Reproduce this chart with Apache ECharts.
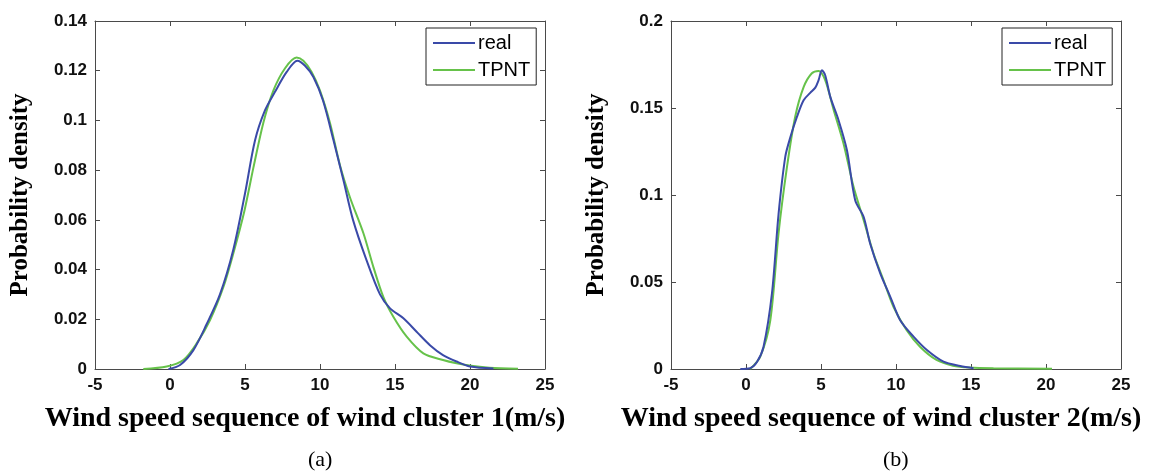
<!DOCTYPE html>
<html>
<head>
<meta charset="utf-8">
<script src="https://cdn.jsdelivr.net/npm/echarts@6/dist/echarts.min.js"></script>
<style>
  html, body { margin: 0; padding: 0; background: #fff; }
  #chart { width: 1150px; height: 473px; }
</style>
</head>
<body>
<div id="chart"></div>
<script>
// wind cluster 1 (a)
const realAX = [-0.1, 0.67, 1.56, 2.44, 3.33, 4.22, 5.0, 5.67, 6.33, 7.0, 7.78, 8.49, 9.0, 9.56, 10.2, 10.9, 11.56, 12.2, 13.1, 14.0, 14.67, 15.56, 16.44, 17.33, 18.2, 19.1, 20.0, 21.56]
const realAY = [0, 0.0016, 0.0076, 0.018, 0.030, 0.048, 0.0706, 0.092, 0.104, 0.1115, 0.1195, 0.124, 0.122, 0.1175, 0.108, 0.092, 0.076, 0.060, 0.0438, 0.030, 0.0244, 0.0204, 0.015, 0.0096, 0.0056, 0.003, 0.001, 0.0002]
const tpntAX = [-1.78, -0.22, 0.89, 1.78, 2.67, 3.56, 4.22, 4.96, 5.56, 6.22, 6.89, 7.67, 8.44, 8.89, 9.44, 10.0, 10.67, 11.33, 12.0, 12.9, 13.56, 14.22, 14.89, 15.78, 16.89, 18.2, 19.1, 20.2, 21.3, 23.2]
const tpntAY = [0, 0.001, 0.0036, 0.0103, 0.0197, 0.033, 0.0465, 0.0636, 0.081, 0.099, 0.112, 0.121, 0.1253, 0.124, 0.1195, 0.112, 0.0989, 0.082, 0.069, 0.0545, 0.041, 0.029, 0.021, 0.013, 0.0063, 0.0036, 0.0023, 0.0012, 0.0005, 0.0001]

// wind cluster 2 (b)
const realBX = [-0.38, 0.28, 0.73, 1.17, 1.73, 2.17, 2.62, 2.95, 3.4, 3.84, 4.28, 4.62, 4.84, 5.06, 5.28, 5.62, 6.17, 6.73, 7.28, 7.84, 8.28, 8.95, 9.62, 10.28, 11.17, 12.06, 13.17, 14.28, 15.17]
const realBY = [0, 0.0005, 0.004, 0.0128, 0.0434, 0.089, 0.122, 0.133, 0.145, 0.1545, 0.1587, 0.1617, 0.166, 0.1717, 0.1688, 0.1564, 0.143, 0.1257, 0.097, 0.0875, 0.072, 0.055, 0.0415, 0.028, 0.0186, 0.0109, 0.0042, 0.0017, 0.0004]
const tpntBX = [0.28, 0.95, 1.62, 2.17, 2.73, 3.28, 3.84, 4.39, 4.84, 5.28, 5.84, 6.5, 7.17, 7.84, 8.5, 9.17, 9.83, 10.7, 11.6, 12.7, 13.8, 14.9, 16.5, 20.4]
const tpntBY = [0, 0.0071, 0.028, 0.078, 0.116, 0.145, 0.162, 0.170, 0.1713, 0.166, 0.149, 0.1296, 0.1047, 0.0856, 0.0664, 0.051, 0.0358, 0.0224, 0.0128, 0.0052, 0.0019, 0.0008, 0.0004, 0.0002]

const xTitles = ['Wind speed sequence of wind cluster 1(m/s)', 'Wind speed sequence of wind cluster 2(m/s)']
const yMax = [0.14, 0.2]
const yStep = [0.02, 0.05]
const legendNames = ['real', 'TPNT']

const blue = '#3a4aa8'
const green = '#66c24a'
const axisColor = '#4a4a4a'

const pairs = (xs, ys) => xs.map((x, i) => [x, ys[i]])

const chart = echarts.init(document.getElementById('chart'))

const grids = [
  { left: 95, top: 21, width: 450, height: 348 },
  { left: 671, top: 21, width: 450, height: 348 }
]

const tickLabel = {
  color: '#111',
  fontFamily: 'Liberation Sans',
  fontWeight: 'bold',
  fontSize: 17
}

let xAxis = []
let yAxis = []
for (let g = 0; g < 2; g++) {
  // bottom + top (box) x axes
  xAxis.push({
    type: 'value', gridIndex: g, min: -5, max: 25, interval: 5, position: 'bottom',
    name: xTitles[g], nameLocation: 'middle', nameGap: 36,
    nameTextStyle: { fontFamily: 'Liberation Serif', fontWeight: 'bold', fontSize: 28, color: '#000', padding: [0, 30, 0, 0] },
    axisLine: { show: true, onZero: false, lineStyle: { color: axisColor, width: 1 } },
    axisTick: { show: true, inside: true, length: 5, lineStyle: { color: axisColor } },
    axisLabel: Object.assign({ margin: 8 }, tickLabel),
    splitLine: { show: false }
  })
  xAxis.push({
    type: 'value', gridIndex: g, min: -5, max: 25, interval: 5, position: 'top',
    axisLine: { show: true, onZero: false, lineStyle: { color: axisColor, width: 1 } },
    axisTick: { show: true, inside: true, length: 5, lineStyle: { color: axisColor } },
    axisLabel: { show: false },
    splitLine: { show: false }
  })
  yAxis.push({
    type: 'value', gridIndex: g, min: 0, max: yMax[g], interval: yStep[g], position: 'left',
    name: 'Probability density', nameLocation: 'middle', nameGap: 62, nameRotate: 90,
    nameTextStyle: { fontFamily: 'Liberation Serif', fontWeight: 'bold', fontSize: 25, color: '#000' },
    axisLine: { show: true, onZero: false, lineStyle: { color: axisColor, width: 1 } },
    axisTick: { show: true, inside: true, length: 5, lineStyle: { color: axisColor } },
    axisLabel: Object.assign({ margin: 8 }, tickLabel),
    splitLine: { show: false }
  })
  yAxis.push({
    type: 'value', gridIndex: g, min: 0, max: yMax[g], interval: yStep[g], position: 'right',
    axisLine: { show: true, onZero: false, lineStyle: { color: axisColor, width: 1 } },
    axisTick: { show: true, inside: true, length: 5, lineStyle: { color: axisColor } },
    axisLabel: { show: false },
    splitLine: { show: false }
  })
}

function lineSeries (name, color, g, data) {
  return {
    name: name,
    type: 'line',
    xAxisIndex: g * 2,
    yAxisIndex: g * 2,
    data: data,
    smooth: 0.3,
    showSymbol: false,
    symbol: 'none',
    lineStyle: { color: color, width: 2 },
    itemStyle: { color: color },
    z: name === 'real' ? 3 : 2
  }
}

const legendCommon = {
  orient: 'vertical',
  top: 28,
  data: legendNames,
  icon: 'rect',
  itemWidth: 42,
  itemHeight: 2,
  itemGap: 7,
  padding: [5, 6, 5, 7],
  borderColor: '#222',
  borderWidth: 1,
  backgroundColor: '#fff',
  textStyle: { fontFamily: 'Liberation Sans', fontSize: 20, color: '#000', padding: [0, 0, 0, -2] }
}

const option = {
  animation: false,
  backgroundColor: '#fff',
  grid: grids,
  xAxis: xAxis,
  yAxis: yAxis,
  legend: [
    Object.assign({ left: 426 }, legendCommon),
    Object.assign({ left: 1002 }, legendCommon)
  ],
  graphic: [
    { type: 'text', left: 308, top: 449, style: { text: '(a)', font: '22px "Liberation Serif"', fill: '#000' } },
    { type: 'text', left: 883, top: 449, style: { text: '(b)', font: '22px "Liberation Serif"', fill: '#000' } }
  ],
  series: [
    lineSeries('real', blue, 0, pairs(realAX, realAY)),
    lineSeries('TPNT', green, 0, pairs(tpntAX, tpntAY)),
    lineSeries('real', blue, 1, pairs(realBX, realBY)),
    lineSeries('TPNT', green, 1, pairs(tpntBX, tpntBY))
  ]
}

chart.setOption(option)
</script>
</body>
</html>
